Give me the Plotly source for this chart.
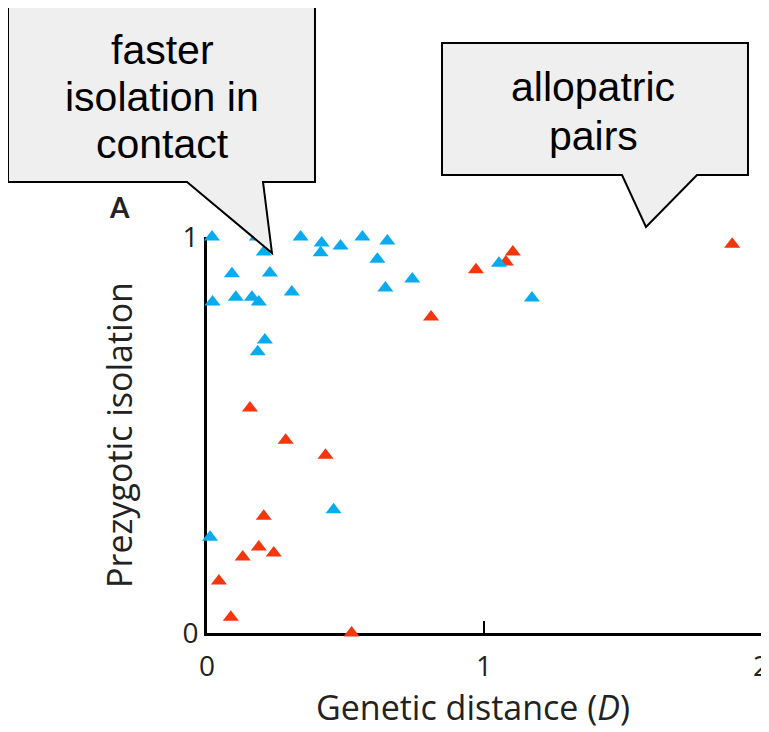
import plotly.graph_objects as go

# allopatric pairs (red) and sympatric / in-contact pairs (blue)
allo_d = [0.155, 0.284, 0.428, 0.205, 0.187, 0.129, 0.241, 0.043, 0.086, 0.522,
          0.809, 0.971, 1.079, 1.104, 1.896]
allo_iso = [0.568, 0.487, 0.449, 0.295, 0.217, 0.192, 0.202, 0.131, 0.040, 0.0,
            0.798, 0.917, 0.937, 0.962, 0.982]

symp_d = [0.018, 0.020, 0.090, 0.104, 0.162, 0.187, 0.205, 0.227, 0.209, 0.183,
          0.306, 0.338, 0.414, 0.410, 0.482, 0.561, 0.615, 0.651, 0.644, 0.741,
          1.054, 1.173, 0.457, 0.011, 0.180]
symp_iso = [1.0, 0.836, 0.907, 0.848, 0.848, 0.836, 0.962, 0.909, 0.740, 0.710,
            0.861, 1.0, 0.985, 0.960, 0.977, 1.0, 0.944, 0.990, 0.871, 0.894,
            0.934, 0.846, 0.311, 0.242, 1.0]

# page body has an 8px margin, so the figure is a bit smaller than the window
OFF = 8
W, H = 769 - OFF, 732 - OFF
L, R, T, B = 207 - OFF, 8, 237 - OFF, 99
PW, PH = W - L - R, H - T - B

RED = '#F4360E'
BLUE = '#0AAAEE'


def px(x):
    # screen pixel -> paper x
    return (x - OFF - L) / PW


def py(y):
    # screen pixel -> paper y
    return (H - B - (y - OFF)) / PH


def bubble(pts):
    s = 'M ' + ' L '.join(f'{px(a):.4f},{py(b):.4f}' for a, b in pts) + ' Z'
    return dict(type='path', xref='paper', yref='paper', path=s,
                fillcolor='#EFEFEF', line=dict(color='black', width=2), layer='above')


def label(x, y, text, font, angle=0):
    return dict(xref='paper', yref='paper', x=px(x), y=py(y), showarrow=False,
                xanchor='center', yanchor='middle', text=text, font=font, textangle=angle)


fig = go.Figure()
fig.add_trace(go.Scatter(x=allo_d, y=allo_iso, mode='markers', cliponaxis=False,
                         marker=dict(symbol='triangle-up', size=14, color=RED)))
fig.add_trace(go.Scatter(x=symp_d, y=symp_iso, mode='markers', cliponaxis=False,
                         marker=dict(symbol='triangle-up', size=14, color=BLUE)))

tick_font = dict(family='Open Sans', size=28, color='#222')
title_font = dict(family='Open Sans', size=34, color='#222')
bubble_font = dict(family='Liberation Sans', size=41, color='black')

fig.update_layout(
    width=W, height=H,
    margin=dict(l=L, r=R, t=T, b=B, autoexpand=False),
    plot_bgcolor='white', paper_bgcolor='white',
    showlegend=False,
    xaxis=dict(range=[0, 2], tickvals=[0, 1, 2], ticktext=['0', '1', '2'],
               showline=True, linewidth=3, linecolor='black', layer='below traces',
               ticks='inside', ticklen=12, tickwidth=1.5, tickcolor='black',
               ticklabelstandoff=6, ticklabeloverflow='allow',
               showgrid=False, zeroline=False, tickfont=tick_font),
    yaxis=dict(range=[0, 1], tickvals=[0, 1], ticktext=['0', '1'],
               showline=True, linewidth=3, linecolor='black', layer='below traces',
               ticks='inside', ticklen=8, tickwidth=1.5, tickcolor='black',
               showgrid=False, zeroline=False, tickfont=tick_font,
               title=dict(text='Prezygotic isolation', standoff=40, font=title_font)),
    shapes=[
        bubble([(8, 7), (315, 7), (315, 182), (263, 182), (272, 253), (187, 182), (8, 182)]),
        bubble([(442, 43), (748, 43), (748, 175), (697, 175), (646, 227), (622, 175), (442, 175)]),
    ],
    annotations=[
        label(162, 50, 'faster', bubble_font),
        label(162, 97, 'isolation in', bubble_font),
        label(162, 144, 'contact', bubble_font),
        label(593, 87, 'allopatric', bubble_font),
        label(593, 136, 'pairs', bubble_font),
        label(119, 207, '<b>A</b>', dict(family='Lato', size=28, color='#222')),
        label(473, 707, 'Genetic distance (<i>D</i>)', title_font),
    ],
)

fig.write_html('out.html')
